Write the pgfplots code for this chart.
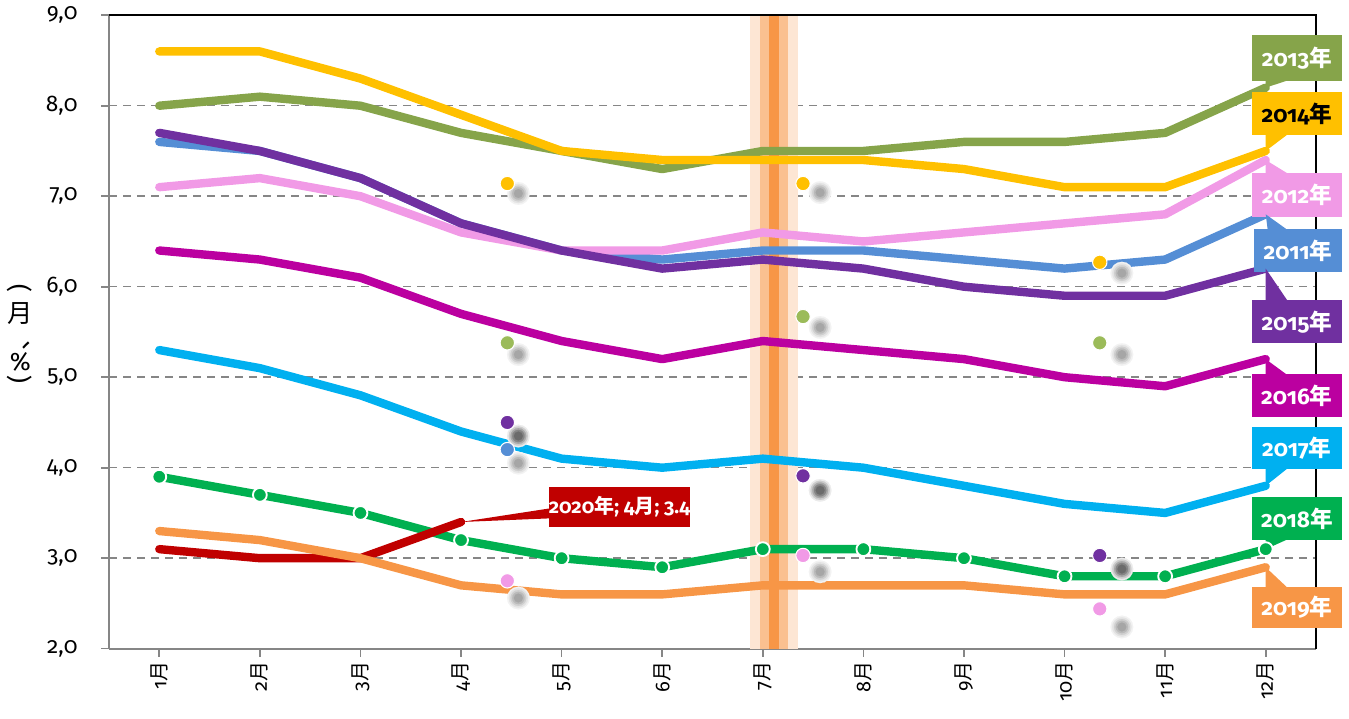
\documentclass[border=0pt]{standalone}
\usepackage{pgfplots}
\pgfplotsset{compat=1.18}
\usepackage{pgfplotstable}
\usepackage{graphicx}
\usepackage{fontspec}
\setmainfont{Fira Sans}[Numbers=OldStyle]
\newfontfamily\cjk{Noto Sans CJK SC}
\newcommand{\yue}{{\cjk 月}}
\newcommand{\nian}{{\cjk 年}}

\definecolor{c2011}{HTML}{558ED5}
\definecolor{c2012}{HTML}{F19AE6}
\definecolor{c2013}{HTML}{86A44A}
\definecolor{c2014}{HTML}{FFC000}
\definecolor{c2015}{HTML}{7030A0}
\definecolor{c2016}{HTML}{BB00A0}
\definecolor{c2017}{HTML}{00B0F0}
\definecolor{c2018}{HTML}{00B050}
\definecolor{c2019}{HTML}{F79646}
\definecolor{c2020}{HTML}{C00000}
\definecolor{dotgreen}{HTML}{9BBB59}
\definecolor{bandA}{HTML}{FDE6D4}
\definecolor{bandB}{HTML}{FAC090}
\definecolor{bandC}{HTML}{F79646}
\definecolor{axgray}{HTML}{868686}

% month, then one column per year (nan = no value yet)
\pgfplotstableread{
m  y2011 y2012 y2013 y2014 y2015 y2016 y2017 y2018 y2019 y2020
1  7.6   7.1   8.0   8.6   7.7   6.4   5.3   3.9   3.3   3.1
2  7.5   7.2   8.1   8.6   7.5   6.3   5.1   3.7   3.2   3.0
3  7.2   7.0   8.0   8.3   7.2   6.1   4.8   3.5   3.0   3.0
4  6.7   6.6   7.7   7.9   6.7   5.7   4.4   3.2   2.7   3.4
5  6.4   6.4   7.5   7.5   6.4   5.4   4.1   3.0   2.6   nan
6  6.3   6.4   7.3   7.4   6.2   5.2   4.0   2.9   2.6   nan
7  6.4   6.6   7.5   7.4   6.3   5.4   4.1   3.1   2.7   nan
8  6.4   6.5   7.5   7.4   6.2   5.3   4.0   3.1   2.7   nan
9  6.3   6.6   7.6   7.3   6.0   5.2   3.8   3.0   2.7   nan
10 6.2   6.7   7.6   7.1   5.9   5.0   3.6   2.8   2.6   nan
11 6.3   6.8   7.7   7.1   5.9   4.9   3.5   2.8   2.6   nan
12 6.8   7.4   8.2   7.5   6.2   5.2   3.8   3.1   2.9   nan
}\rates

\pgfplotstableread{
x     y
4.57  7.03
4.57  5.25
4.57  4.05
4.57  2.56
7.57  7.04
7.57  5.55
7.57  2.85
10.57 6.15
10.57 5.25
10.57 2.24
}\shadowlight

\pgfplotstableread{
x     y
4.57  4.35
7.57  3.75
10.57 2.88
}\shadowdark

\begin{document}
\begin{tikzpicture}
\path[use as bounding box] (0,0) rectangle (1011.75pt,538.5pt);
\begin{axis}[
  at={(81.75pt,51.98pt)}, anchor=south west,
  scale only axis, width=905.25pt, height=475.1pt,
  xmin=0.5, xmax=12.5, ymin=2, ymax=9,
  axis x line*=bottom, axis y line*=left,
  axis line style={draw=axgray, line width=1.5pt, -},
  xtick={1,...,12},
  xticklabels={1\yue,2\yue,3\yue,4\yue,5\yue,6\yue,7\yue,8\yue,9\yue,10\yue,11\yue,12\yue},
  ytick={2,3,...,9},
  tick align=outside,
  major tick length=6pt,
  tick style={draw=axgray, line width=1.2pt},
  x tick label style={rotate=90, anchor=east, font=\fontsize{15}{15}\selectfont},
  y tick label style={font=\fontsize{17}{17}\selectfont, xshift=-14pt},
  /pgf/number format/.cd, fixed, fixed zerofill, precision=1, use comma, assume math mode=true,
  /pgfplots/.cd,
  ymajorgrids,
  grid style={dashed, dash pattern=on 6pt off 4.5pt, draw=axgray, line width=1.1pt},
  clip=false,
  every axis plot/.append style={line width=6.3pt, line join=round, line cap=round},
  dots/.style={only marks, mark=*, mark size=#1},
  shd/.style 2 args={only marks, mark=*, mark size=#1, color=#2, mark options={line width=0.1pt}},
]
% highlight band at July
\fill[bandA] (axis cs:6.87,2) rectangle (axis cs:7.35,9);
\fill[bandB] (axis cs:6.97,2) rectangle (axis cs:7.25,9);
\fill[bandC] (axis cs:7.06,2) rectangle (axis cs:7.16,9);

% frame top and right
\draw[black, line width=1.2pt] (rel axis cs:0,1) -- (rel axis cs:1,1) -- (rel axis cs:1,0);

% soft grey shadows, stacked solid layers
\addplot[shd={8.5pt}{black!5}] table {\shadowlight};
\addplot[shd={7.2pt}{black!11}] table {\shadowlight};
\addplot[shd={5.9pt}{black!19}] table {\shadowlight};
\addplot[shd={4.6pt}{black!27}] table {\shadowlight};
\addplot[shd={3.3pt}{black!35}] table {\shadowlight};
\addplot[shd={8.5pt}{black!8}] table {\shadowdark};
\addplot[shd={7.2pt}{black!20}] table {\shadowdark};
\addplot[shd={5.9pt}{black!34}] table {\shadowdark};
\addplot[shd={4.6pt}{black!48}] table {\shadowdark};
\addplot[shd={3.3pt}{black!58}] table {\shadowdark};
% coloured dots
\addplot[dots=5.4pt, mark options={draw=white, line width=0.8pt, fill=c2014}]
  coordinates {(4.46,7.14) (7.40,7.14) (10.35,6.27)};
\addplot[dots=5.4pt, mark options={draw=white, line width=0.8pt, fill=dotgreen}]
  coordinates {(4.46,5.38) (7.40,5.67) (10.35,5.38)};
\addplot[dots=5.4pt, mark options={draw=white, line width=0.8pt, fill=c2015}]
  coordinates {(4.46,4.50) (7.40,3.91) (10.35,3.03)};
\addplot[dots=5.4pt, mark options={draw=white, line width=0.8pt, fill=c2011}]
  coordinates {(4.46,4.20)};
\addplot[dots=5.4pt, mark options={draw=white, line width=0.8pt, fill=c2012}]
  coordinates {(4.46,2.75) (7.40,3.03) (10.35,2.44)};

% yearly lines
\addplot[c2011, no marks] table[x=m, y=y2011] {\rates};
\addplot[c2012, no marks] table[x=m, y=y2012] {\rates};
\addplot[c2013, no marks] table[x=m, y=y2013] {\rates};
\addplot[c2014, no marks] table[x=m, y=y2014] {\rates};
\addplot[c2015, no marks] table[x=m, y=y2015] {\rates};
\addplot[c2016, no marks] table[x=m, y=y2016] {\rates};
\addplot[c2017, no marks] table[x=m, y=y2017] {\rates};
\addplot[c2018, mark=*, mark size=5.2pt, mark options={fill=c2018, draw=white, line width=1.4pt}] table[x=m, y=y2018] {\rates};
\addplot[c2020, no marks, unbounded coords=discard] table[x=m, y=y2020] {\rates};
\addplot[c2019, no marks] table[x=m, y=y2019] {\rates};

% year callouts on the right
\tikzset{yrlab/.style={font=\bfseries\fontsize{17}{17}\selectfont, text=white, inner sep=0pt}}
% 2013 (pointer down)
\fill[c2013] (axis cs:11.86,8.27) rectangle (axis cs:12.76,8.78);
\fill[c2013] (axis cs:12,8.2) -- (axis cs:12,8.28) -- (axis cs:12.22,8.28) -- cycle;
\node[yrlab] at (axis cs:12.31,8.525) {2013\nian};
% 2014
\fill[c2014] (axis cs:11.86,7.675) rectangle (axis cs:12.76,8.15);
\fill[c2014] (axis cs:12,7.5) -- (axis cs:12,7.685) -- (axis cs:12.22,7.685) -- cycle;
\node[yrlab, text=black] at (axis cs:12.31,7.91) {2014\nian};
% 2012 (pointer up)
\fill[c2012] (axis cs:11.86,6.77) rectangle (axis cs:12.76,7.26);
\fill[c2012] (axis cs:12,7.4) -- (axis cs:12,7.25) -- (axis cs:12.22,7.25) -- cycle;
\node[yrlab] at (axis cs:12.31,7.015) {2012\nian};
% 2011
\fill[c2011] (axis cs:11.88,6.16) rectangle (axis cs:12.76,6.635);
\fill[c2011] (axis cs:12,6.8) -- (axis cs:12.02,6.625) -- (axis cs:12.22,6.625) -- cycle;
\node[yrlab] at (axis cs:12.32,6.40) {2011\nian};
% 2015
\fill[c2015] (axis cs:11.86,5.375) rectangle (axis cs:12.76,5.85);
\fill[c2015] (axis cs:12,6.2) -- (axis cs:12,5.84) -- (axis cs:12.22,5.84) -- cycle;
\node[yrlab] at (axis cs:12.31,5.61) {2015\nian};
% 2016
\fill[c2016] (axis cs:11.86,4.56) rectangle (axis cs:12.76,5.03);
\fill[c2016] (axis cs:12,5.2) -- (axis cs:12,5.02) -- (axis cs:12.22,5.02) -- cycle;
\node[yrlab] at (axis cs:12.31,4.795) {2016\nian};
% 2017 (pointer down)
\fill[c2017] (axis cs:11.86,3.985) rectangle (axis cs:12.76,4.45);
\fill[c2017] (axis cs:12,3.8) -- (axis cs:12,3.995) -- (axis cs:12.22,3.995) -- cycle;
\node[yrlab] at (axis cs:12.31,4.22) {2017\nian};
% 2018
\fill[c2018] (axis cs:11.86,3.2) rectangle (axis cs:12.76,3.68);
\fill[c2018] (axis cs:12,3.1) -- (axis cs:12,3.21) -- (axis cs:12.22,3.21) -- cycle;
\node[yrlab] at (axis cs:12.31,3.44) {2018\nian};
% 2019 (pointer up)
\fill[c2019] (axis cs:11.86,2.23) rectangle (axis cs:12.76,2.68);
\fill[c2019] (axis cs:12,2.9) -- (axis cs:12,2.67) -- (axis cs:12.22,2.67) -- cycle;
\node[yrlab] at (axis cs:12.31,2.455) {2019\nian};
% 2020 data label
\fill[c2020] (axis cs:4.87,3.345) rectangle (axis cs:6.28,3.787);
\fill[c2020] (axis cs:4,3.4) -- (axis cs:4.88,3.55) -- (axis cs:4.88,3.44) -- cycle;
\node[yrlab, font=\bfseries\fontsize{15}{15}\selectfont] at (axis cs:5.575,3.566) {2020\nian; 4\yue; 3.4};
\end{axis}
% y axis title, read upwards with the % and the CJK sign upright
\node[rotate=90, font=\fontsize{19}{19}\selectfont] at (15pt,288pt)
  {(\hspace{3pt}\rotatebox[origin=c]{-90}{\%}\hspace{2pt}{\cjk 、}\rotatebox[origin=c]{-90}{\cjk 月}\hspace{8pt})};
\end{tikzpicture}
\end{document}
